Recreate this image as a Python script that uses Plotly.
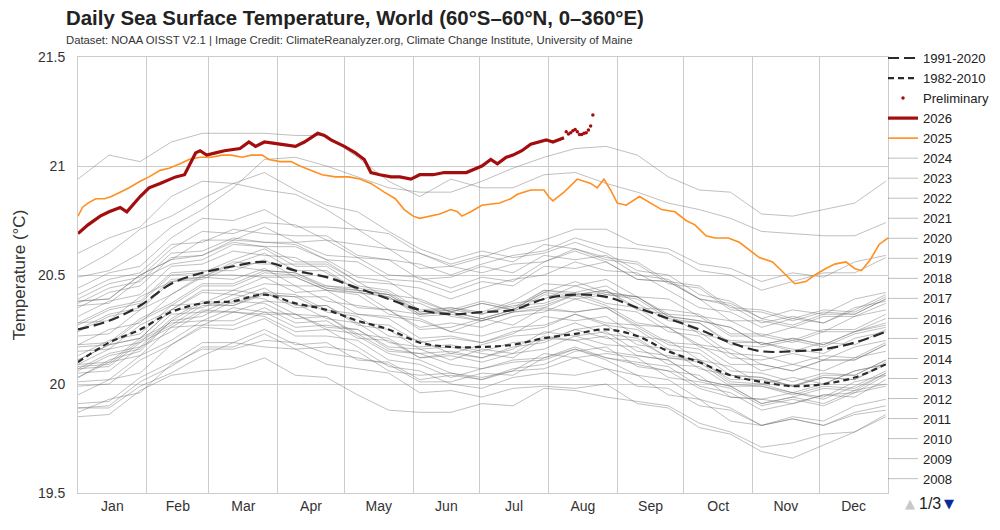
import pandas as pd
import plotly.graph_objects as go

BASE = pd.Timestamp("2025-01-01")

# ---- data (day of year, deg C) ----
GRID_DAYS = [0, 14, 28, 42, 56, 70, 84, 98, 112, 126, 140, 154, 168, 182, 196,
             210, 224, 238, 252, 266, 280, 294, 308, 322, 336, 350, 364]

CLIM_1991_2020 = [20.25, 20.29, 20.36, 20.46, 20.51, 20.54, 20.56, 20.52, 20.49, 20.44,
                  20.39, 20.34, 20.32, 20.33, 20.34, 20.39, 20.41, 20.40, 20.35, 20.30,
                  20.25, 20.19, 20.15, 20.15, 20.16, 20.19, 20.24]

CLIM_1982_2010 = [20.10, 20.19, 20.25, 20.33, 20.37, 20.38, 20.41, 20.37, 20.34, 20.29,
                  20.25, 20.19, 20.17, 20.17, 20.18, 20.21, 20.23, 20.25, 20.22, 20.15,
                  20.10, 20.04, 20.01, 19.99, 20.00, 20.03, 20.09]

Y2026_DAYS = [0, 4.5, 10, 14, 19, 22, 28, 32, 37, 44, 48, 50, 53, 55, 58, 62, 66, 73, 77,
              80, 84, 91, 98, 102, 105, 108, 111, 114, 120, 125, 129, 132, 136, 141, 145,
              150, 154, 160, 165, 171, 175, 182, 186, 189, 193, 196, 200, 204, 207, 211,
              214, 219]
Y2026_VALUES = [20.69, 20.73, 20.77, 20.79, 20.81, 20.79, 20.86, 20.90, 20.92, 20.95, 20.96,
                21.00, 21.06, 21.07, 21.05, 21.06, 21.07, 21.08, 21.11, 21.09, 21.11, 21.10,
                21.09, 21.11, 21.13, 21.15, 21.14, 21.12, 21.09, 21.06, 21.03, 20.97, 20.96,
                20.95, 20.95, 20.94, 20.96, 20.96, 20.97, 20.97, 20.97, 21.00, 21.03, 21.01,
                21.04, 21.05, 21.07, 21.10, 21.11, 21.12, 21.11, 21.13]

PRELIM_DAYS = [220, 221, 222, 223, 224, 225, 226, 227, 228, 229, 230, 231, 232]
PRELIM_VALUES = [21.157, 21.147, 21.153, 21.162, 21.168, 21.157, 21.145, 21.145, 21.150,
                 21.153, 21.165, 21.183, 21.234]

Y2025_DAYS = [0, 2, 4.5, 8, 12, 15, 19, 23, 28, 32, 37, 41, 46, 50, 55, 60, 65, 69, 74, 78,
              83, 86, 91, 96, 100, 105, 110, 116, 122, 127, 132, 138, 143, 147, 151, 154,
              159, 163, 168, 171, 173, 177, 182, 190, 195, 198, 204, 210, 212, 214, 219,
              225, 231, 234, 237, 240, 243, 247, 253, 258, 263, 269, 274, 278, 283, 287,
              293, 298, 303, 307, 313, 319, 323, 328, 332, 337, 341, 346, 350, 353, 357,
              361, 365]
Y2025_VALUES = [20.77, 20.81, 20.83, 20.85, 20.85, 20.86, 20.88, 20.90, 20.93, 20.95, 20.98,
                20.99, 21.01, 21.03, 21.04, 21.04, 21.05, 21.05, 21.04, 21.05, 21.05, 21.03,
                21.02, 21.02, 21.00, 20.98, 20.96, 20.95, 20.95, 20.94, 20.92, 20.88, 20.85,
                20.80, 20.77, 20.76, 20.77, 20.78, 20.80, 20.79, 20.77, 20.79, 20.82, 20.83,
                20.85, 20.87, 20.89, 20.89, 20.86, 20.84, 20.88, 20.94, 20.92, 20.90, 20.94,
                20.89, 20.83, 20.82, 20.86, 20.83, 20.80, 20.79, 20.75, 20.73, 20.68, 20.67,
                20.67, 20.65, 20.61, 20.58, 20.56, 20.50, 20.46, 20.47, 20.50, 20.53, 20.55,
                20.56, 20.53, 20.52, 20.57, 20.64, 20.67]

# past years, stored as anomalies against the 1991-2020 mean at GRID_DAYS
A1982 = [-0.38,-0.36,-0.40,-0.37,-0.35,-0.38,-0.36,-0.33,-0.35,-0.32,-0.30,-0.33,-0.31,-0.28,-0.30,-0.27,-0.25,-0.28,-0.26,-0.24,-0.27,-0.25,-0.22,-0.24,-0.21,-0.23,-0.20]
A1983 = [-0.22,-0.18,-0.21,-0.17,-0.20,-0.16,-0.19,-0.22,-0.18,-0.21,-0.24,-0.20,-0.23,-0.26,-0.24,-0.28,-0.25,-0.29,-0.31,-0.28,-0.32,-0.30,-0.34,-0.31,-0.35,-0.33,-0.36]
A1984 = [-0.36,-0.40,-0.37,-0.41,-0.38,-0.35,-0.39,-0.36,-0.40,-0.37,-0.34,-0.38,-0.35,-0.39,-0.36,-0.40,-0.43,-0.40,-0.44,-0.41,-0.45,-0.42,-0.46,-0.49,-0.44,-0.41,-0.39]
A1985 = [-0.40,-0.43,-0.39,-0.42,-0.45,-0.47,-0.44,-0.48,-0.46,-0.49,-0.51,-0.47,-0.45,-0.42,-0.44,-0.41,-0.44,-0.46,-0.43,-0.40,-0.43,-0.41,-0.44,-0.42,-0.39,-0.41,-0.38]
A1986 = [-0.34,-0.37,-0.33,-0.36,-0.32,-0.35,-0.31,-0.34,-0.30,-0.33,-0.29,-0.32,-0.28,-0.31,-0.27,-0.30,-0.26,-0.23,-0.27,-0.24,-0.21,-0.25,-0.22,-0.19,-0.23,-0.20,-0.18]
A1987 = [-0.18,-0.15,-0.19,-0.16,-0.13,-0.17,-0.14,-0.11,-0.15,-0.12,-0.09,-0.13,-0.10,-0.14,-0.11,-0.08,-0.12,-0.09,-0.13,-0.10,-0.14,-0.11,-0.15,-0.12,-0.16,-0.13,-0.15]
A1988 = [-0.14,-0.11,-0.15,-0.12,-0.16,-0.13,-0.17,-0.20,-0.18,-0.22,-0.25,-0.23,-0.27,-0.30,-0.28,-0.32,-0.29,-0.33,-0.31,-0.35,-0.32,-0.36,-0.34,-0.31,-0.35,-0.32,-0.34]
A1989 = [-0.36,-0.39,-0.35,-0.38,-0.34,-0.37,-0.33,-0.36,-0.32,-0.29,-0.33,-0.30,-0.27,-0.31,-0.28,-0.25,-0.29,-0.26,-0.23,-0.27,-0.24,-0.21,-0.25,-0.22,-0.26,-0.23,-0.25]
A1990 = [-0.22,-0.19,-0.23,-0.20,-0.17,-0.21,-0.18,-0.15,-0.19,-0.16,-0.20,-0.17,-0.14,-0.18,-0.15,-0.19,-0.16,-0.13,-0.17,-0.14,-0.18,-0.15,-0.12,-0.16,-0.13,-0.17,-0.14]
A1991 = [-0.16,-0.13,-0.17,-0.14,-0.18,-0.15,-0.12,-0.16,-0.13,-0.17,-0.14,-0.18,-0.15,-0.19,-0.22,-0.18,-0.21,-0.25,-0.22,-0.19,-0.23,-0.20,-0.24,-0.21,-0.18,-0.22,-0.19]
A1992 = [-0.18,-0.21,-0.17,-0.20,-0.24,-0.21,-0.25,-0.28,-0.24,-0.27,-0.31,-0.28,-0.32,-0.35,-0.31,-0.34,-0.37,-0.33,-0.36,-0.32,-0.35,-0.31,-0.34,-0.30,-0.33,-0.29,-0.31]
A1993 = [-0.30,-0.27,-0.31,-0.28,-0.25,-0.29,-0.26,-0.30,-0.27,-0.24,-0.28,-0.25,-0.29,-0.26,-0.23,-0.27,-0.24,-0.28,-0.25,-0.22,-0.26,-0.23,-0.27,-0.24,-0.21,-0.25,-0.22]
A1994 = [-0.24,-0.27,-0.23,-0.26,-0.22,-0.25,-0.21,-0.24,-0.20,-0.23,-0.19,-0.22,-0.18,-0.21,-0.17,-0.20,-0.16,-0.19,-0.15,-0.18,-0.14,-0.17,-0.13,-0.16,-0.12,-0.15,-0.13]
A1995 = [-0.12,-0.09,-0.13,-0.10,-0.14,-0.11,-0.15,-0.12,-0.16,-0.13,-0.17,-0.14,-0.18,-0.15,-0.12,-0.16,-0.13,-0.17,-0.14,-0.18,-0.15,-0.19,-0.16,-0.20,-0.17,-0.21,-0.19]
A1996 = [-0.20,-0.23,-0.19,-0.22,-0.18,-0.21,-0.24,-0.20,-0.23,-0.19,-0.22,-0.18,-0.21,-0.17,-0.20,-0.23,-0.19,-0.22,-0.18,-0.21,-0.17,-0.20,-0.16,-0.19,-0.22,-0.18,-0.20]
A1997 = [-0.19,-0.16,-0.20,-0.17,-0.14,-0.18,-0.15,-0.12,-0.09,-0.12,-0.08,-0.05,-0.08,-0.04,-0.01,-0.04,0.00,0.03,0.00,0.04,0.07,0.04,0.08,0.05,0.09,0.06,0.08]
A1998 = [0.10,0.13,0.09,0.12,0.08,0.11,0.07,0.04,0.07,0.03,0.00,0.03,-0.01,-0.04,-0.01,-0.05,-0.08,-0.05,-0.09,-0.12,-0.09,-0.13,-0.10,-0.14,-0.11,-0.15,-0.13]
A1999 = [-0.16,-0.19,-0.15,-0.18,-0.22,-0.19,-0.23,-0.20,-0.24,-0.21,-0.18,-0.22,-0.19,-0.23,-0.20,-0.17,-0.21,-0.18,-0.22,-0.19,-0.23,-0.20,-0.24,-0.21,-0.25,-0.22,-0.24]
A2000 = [-0.26,-0.29,-0.25,-0.28,-0.24,-0.27,-0.23,-0.26,-0.22,-0.19,-0.23,-0.20,-0.17,-0.21,-0.18,-0.15,-0.19,-0.16,-0.20,-0.17,-0.14,-0.18,-0.15,-0.19,-0.16,-0.13,-0.15]
A2001 = [-0.14,-0.11,-0.15,-0.12,-0.09,-0.13,-0.10,-0.07,-0.11,-0.08,-0.05,-0.09,-0.06,-0.03,-0.07,-0.04,-0.08,-0.05,-0.02,-0.06,-0.03,-0.07,-0.04,-0.01,-0.05,-0.02,-0.04]
A2002 = [-0.03,-0.06,-0.02,-0.05,-0.01,-0.04,-0.07,-0.03,-0.06,-0.02,0.01,-0.02,0.02,-0.01,0.03,0.00,0.04,0.01,0.05,0.02,0.06,0.03,0.07,0.04,0.08,0.05,0.06]
A2003 = [0.06,0.09,0.05,0.08,0.04,0.07,0.03,0.06,0.02,-0.01,0.02,-0.02,0.01,-0.03,0.00,0.04,0.01,0.05,0.02,-0.01,0.03,0.00,0.04,0.01,-0.02,0.02,0.00]
A2004 = [-0.01,0.02,-0.02,0.01,-0.03,0.00,-0.04,-0.01,-0.05,-0.02,0.01,-0.03,0.00,-0.04,-0.01,0.02,-0.02,0.01,0.04,0.00,0.03,-0.01,0.02,0.05,0.01,0.04,0.02]
A2005 = [0.02,0.05,0.01,0.04,0.00,0.03,0.06,0.02,0.05,0.01,0.04,0.00,0.03,-0.01,0.02,-0.02,0.01,-0.03,0.00,-0.04,-0.01,-0.05,-0.02,-0.06,-0.03,-0.07,-0.05]
A2006 = [-0.07,-0.04,-0.08,-0.05,-0.02,-0.06,-0.03,-0.07,-0.04,-0.01,-0.05,-0.02,0.01,-0.03,0.00,0.03,-0.01,0.02,0.05,0.01,0.04,0.07,0.03,0.06,0.02,0.05,0.03]
A2007 = [0.03,0.06,0.02,0.05,0.01,-0.02,0.01,-0.03,-0.06,-0.03,-0.07,-0.04,-0.08,-0.11,-0.08,-0.12,-0.09,-0.13,-0.10,-0.14,-0.11,-0.15,-0.12,-0.16,-0.13,-0.17,-0.15]
A2008 = [-0.17,-0.20,-0.16,-0.19,-0.15,-0.18,-0.14,-0.17,-0.13,-0.16,-0.12,-0.15,-0.11,-0.14,-0.10,-0.13,-0.09,-0.12,-0.08,-0.11,-0.07,-0.10,-0.06,-0.09,-0.05,-0.08,-0.06]
A2009 = [-0.08,-0.11,-0.07,-0.10,-0.06,-0.09,-0.05,-0.02,-0.05,-0.01,0.02,-0.01,0.03,0.00,0.04,0.07,0.04,0.08,0.05,0.09,0.06,0.10,0.07,0.11,0.08,0.12,0.10]
A2010 = [0.12,0.15,0.11,0.14,0.10,0.13,0.09,0.12,0.08,0.05,0.08,0.04,0.01,0.04,0.00,-0.03,0.00,-0.04,-0.07,-0.04,-0.08,-0.05,-0.09,-0.06,-0.10,-0.07,-0.09]
A2011 = [-0.10,-0.13,-0.09,-0.12,-0.08,-0.11,-0.07,-0.10,-0.06,-0.09,-0.05,-0.08,-0.04,-0.07,-0.03,-0.06,-0.02,-0.05,-0.08,-0.04,-0.07,-0.03,-0.06,-0.09,-0.05,-0.08,-0.06]
A2012 = [-0.07,-0.10,-0.06,-0.09,-0.05,-0.08,-0.04,-0.01,-0.04,0.00,0.03,-0.01,0.02,0.05,0.01,0.04,0.00,0.03,-0.01,0.02,-0.02,0.01,0.04,0.00,0.03,-0.01,0.01]
A2013 = [0.00,0.03,-0.01,0.02,-0.02,0.01,0.04,0.00,0.03,-0.01,0.02,0.05,0.01,0.04,0.00,0.03,0.06,0.02,0.05,0.01,0.04,0.07,0.03,0.06,0.02,0.05,0.04]
A2014 = [0.03,0.00,0.04,0.01,-0.02,0.02,-0.01,0.03,0.06,0.03,0.07,0.10,0.07,0.11,0.14,0.11,0.15,0.12,0.16,0.13,0.10,0.14,0.11,0.15,0.12,0.16,0.14]
A2015 = [0.13,0.10,0.14,0.11,0.15,0.12,0.16,0.13,0.17,0.14,0.18,0.21,0.18,0.22,0.25,0.22,0.26,0.23,0.27,0.30,0.27,0.31,0.28,0.32,0.35,0.32,0.34]
A2016 = [0.35,0.38,0.36,0.40,0.42,0.38,0.41,0.37,0.33,0.35,0.31,0.28,0.25,0.28,0.24,0.21,0.24,0.20,0.17,0.20,0.16,0.19,0.15,0.12,0.16,0.13,0.15]
A2017 = [0.14,0.17,0.13,0.16,0.19,0.15,0.18,0.21,0.17,0.20,0.23,0.19,0.22,0.18,0.21,0.17,0.20,0.16,0.13,0.17,0.14,0.10,0.14,0.11,0.15,0.12,0.13]
A2018 = [0.11,0.08,0.12,0.09,0.06,0.10,0.07,0.11,0.08,0.12,0.09,0.13,0.10,0.14,0.11,0.15,0.12,0.16,0.13,0.17,0.14,0.18,0.15,0.19,0.16,0.20,0.18]
A2019 = [0.19,0.22,0.18,0.21,0.25,0.21,0.24,0.20,0.23,0.27,0.23,0.26,0.22,0.25,0.29,0.27,0.30,0.31,0.29,0.32,0.30,0.34,0.32,0.36,0.33,0.37,0.35]
A2020 = [0.27,0.31,0.35,0.31,0.34,0.38,0.33,0.35,0.31,0.27,0.30,0.26,0.23,0.26,0.22,0.25,0.21,0.18,0.21,0.17,0.20,0.16,0.19,0.15,0.18,0.14,0.16]
A2021 = [0.13,0.10,0.14,0.11,0.08,0.12,0.09,0.13,0.10,0.14,0.11,0.15,0.12,0.16,0.13,0.17,0.21,0.17,0.20,0.16,0.19,0.15,0.18,0.14,0.17,0.13,0.15]
A2022 = [0.16,0.19,0.15,0.18,0.14,0.17,0.13,0.16,0.19,0.15,0.18,0.14,0.17,0.21,0.17,0.20,0.16,0.19,0.15,0.18,0.14,0.17,0.13,0.16,0.12,0.15,0.17]
A2023 = [0.24,0.23,0.24,0.26,0.29,0.36,0.47,0.52,0.51,0.51,0.51,0.54,0.56,0.60,0.65,0.65,0.67,0.69,0.70,0.65,0.64,0.69,0.63,0.62,0.64,0.64,0.69]
A2024 = [0.69,0.76,0.66,0.65,0.64,0.61,0.59,0.62,0.65,0.60,0.54,0.52,0.62,0.57,0.56,0.57,0.56,0.52,0.53,0.53,0.55,0.57,0.55,0.54,0.52,0.49,0.50]

GRAY_YEARS = list(range(1982, 2025))
GRAY_ANOMS = [A1982, A1983, A1984, A1985, A1986, A1987, A1988, A1989, A1990, A1991,
              A1992, A1993, A1994, A1995, A1996, A1997, A1998, A1999, A2000, A2001,
              A2002, A2003, A2004, A2005, A2006, A2007, A2008, A2009, A2010, A2011,
              A2012, A2013, A2014, A2015, A2016, A2017, A2018, A2019, A2020, A2021,
              A2022, A2023, A2024]
LEGEND_MIN_YEAR = 2008

MONTH_TICK_FMT = "%b"


def to_dates(days):
    return BASE + pd.to_timedelta(days, unit="D")


FONT = "Liberation Sans, Arial, Helvetica, sans-serif"
fig = go.Figure()

# gray past years
for yr, anom in zip(GRAY_YEARS, GRAY_ANOMS):
    vals = [c + a for c, a in zip(CLIM_1991_2020, anom)]
    fig.add_trace(go.Scatter(
        x=to_dates(GRID_DAYS), y=vals, mode="lines", name=str(yr),
        line=dict(color="rgba(110,110,110,0.55)", width=0.8),
        showlegend=(yr >= LEGEND_MIN_YEAR), legendrank=100 + (2024 - yr),
        hoverinfo="skip"))

fig.add_trace(go.Scatter(
    x=to_dates(GRID_DAYS), y=CLIM_1982_2010, mode="lines", name="1982-2010",
    line=dict(color="#2b2b2b", width=2.2, dash="6px,4px", shape="spline"), legendrank=2))
fig.add_trace(go.Scatter(
    x=to_dates(GRID_DAYS), y=CLIM_1991_2020, mode="lines", name="1991-2020",
    line=dict(color="#2b2b2b", width=2.2, dash="11px,5px", shape="spline"), legendrank=1))
fig.add_trace(go.Scatter(
    x=to_dates(Y2025_DAYS), y=Y2025_VALUES, mode="lines", name="2025",
    line=dict(color="#ff8f1f", width=1.6), legendrank=5))
fig.add_trace(go.Scatter(
    x=to_dates(Y2026_DAYS), y=Y2026_VALUES, mode="lines", name="2026",
    line=dict(color="#a30d0d", width=3.2), legendrank=4))
fig.add_trace(go.Scatter(
    x=to_dates(PRELIM_DAYS), y=PRELIM_VALUES, mode="markers", name="Preliminary",
    marker=dict(color="#a30d0d", size=3.5), legendrank=3))

# the page has an 8px body margin, so the figure is drawn 8px in from the corner
OFF = 8
FIG_W, FIG_H = 1000 - OFF, 530 - OFF
PLOT_L, PLOT_R, PLOT_T, PLOT_B = 78, 888, 57, 493   # target screenshot pixels
PW, PH = PLOT_R - PLOT_L, PLOT_B - PLOT_T


def px_x(x):
    return (x - PLOT_L) / PW


def px_y(y):
    return (PLOT_B - y) / PH


fig.update_layout(
    width=FIG_W, height=FIG_H, autosize=False,
    margin=dict(l=PLOT_L - OFF, r=FIG_W + OFF - PLOT_R, t=PLOT_T - OFF,
                b=FIG_H + OFF - PLOT_B, pad=0, autoexpand=False),
    paper_bgcolor="white", plot_bgcolor="white",
    font=dict(family=FONT, size=14, color="#333333"),
    showlegend=True,
    legend=dict(xref="container", yref="container",
                x=(883 - OFF) / FIG_W, y=1 - (43 - OFF) / FIG_H,
                xanchor="left", yanchor="top",
                font=dict(family=FONT, size=13.1, color="#222222"),
                bgcolor="rgba(0,0,0,0)", itemwidth=30, tracegroupgap=0,
                traceorder="normal", maxheight=520),
    hovermode=False,
    xaxis=dict(type="date", range=[BASE, BASE + pd.Timedelta(days=365)],
               tick0=BASE, dtick="M1", tickformat=MONTH_TICK_FMT,
               ticklabelmode="period", showgrid=True, gridcolor="#cccccc",
               gridwidth=1, showline=True, linecolor="#cccccc", linewidth=1,
               mirror=True, ticks="", zeroline=False, automargin=False,
               tickfont=dict(family=FONT, size=14, color="#333333")),
    yaxis=dict(range=[19.5, 21.5], tickvals=[19.5, 20, 20.5, 21, 21.5],
               ticktext=["19.5", "20", "20.5", "21", "21.5"],
               showgrid=True, gridcolor="#cccccc", gridwidth=1,
               showline=True, linecolor="#cccccc", linewidth=1, mirror=True,
               ticks="", zeroline=False, ticklabelstandoff=9, automargin=False,
               tickfont=dict(family=FONT, size=14, color="#333333")),
    annotations=[
        dict(text="<b>Daily Sea Surface Temperature, World (60°S–60°N, 0–360°E)</b>",
             xref="paper", yref="paper", x=px_x(64), y=px_y(18),
             xanchor="left", yanchor="middle", showarrow=False,
             font=dict(family=FONT, size=20.4, color="#222222")),
        dict(text="Dataset: NOAA OISST V2.1 | Image Credit: ClimateReanalyzer.org, "
                  "Climate Change Institute, University of Maine",
             xref="paper", yref="paper", x=px_x(64), y=px_y(40),
             xanchor="left", yanchor="middle", showarrow=False,
             font=dict(family=FONT, size=11.3, color="#333333")),
        dict(text="▲", xref="paper", yref="paper", x=px_x(910), y=px_y(504),
             xanchor="center", yanchor="middle", showarrow=False,
             font=dict(family="DejaVu Sans", size=13, color="#c8c8c8")),
        dict(text="1/3", xref="paper", yref="paper", x=px_x(930), y=px_y(503),
             xanchor="center", yanchor="middle", showarrow=False,
             font=dict(family=FONT, size=16, color="#222222")),
        dict(text="▼", xref="paper", yref="paper", x=px_x(949), y=px_y(504),
             xanchor="center", yanchor="middle", showarrow=False,
             font=dict(family="DejaVu Sans", size=13, color="#0b2a9a")),
    ],
)
fig.update_yaxes(title=dict(text="Temperature (°C)", standoff=8,
                            font=dict(family=FONT, size=17, color="#333333")))

fig.write_html("out.html")
